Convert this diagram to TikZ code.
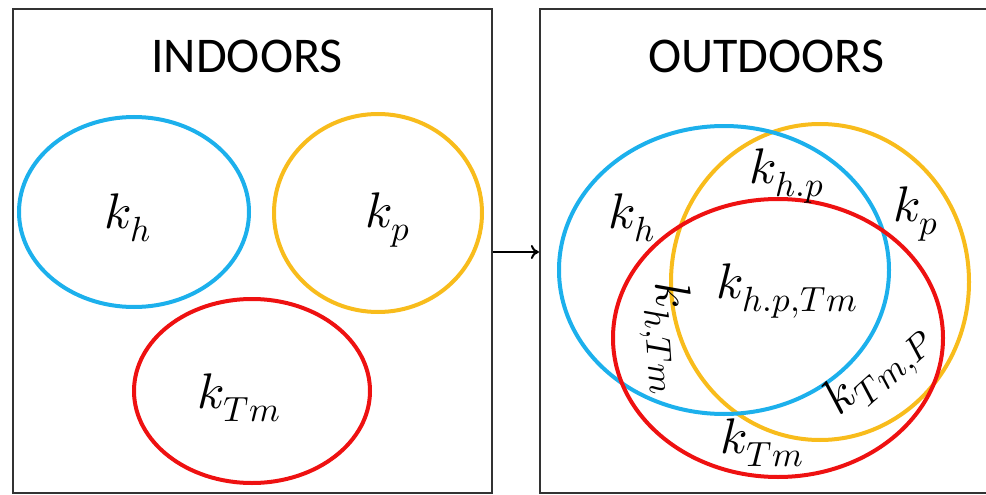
\documentclass[tikz,border=0pt]{standalone}
\usepackage{fontspec}
\usepackage{unicode-math}
\setmainfont{Carlito}
\setmathfont{Latin Modern Math}
\usetikzlibrary{arrows.meta}
\definecolor{cblue}{HTML}{1CB0EC}
\definecolor{corange}{HTML}{F8BC1C}
\definecolor{cred}{HTML}{EE1111}
\tikzset{
  panel/.style={draw=black!80, line width=2.2pt, rectangle, inner sep=0pt},
  title/.style={font=\fontsize{50}{50}\selectfont, inner sep=0pt},
  lbl/.style={font=\fontsize{50}{50}\selectfont, inner sep=0pt},
  ring/.style={line width=4pt},
}
\begin{document}
\begin{tikzpicture}[x=1pt,y=-1pt]
\useasboundingbox (0,0) rectangle (986,495);
% panels
\node[panel, minimum width=479pt, minimum height=484pt] (L) at (252.5,251) {};
\node[panel, minimum width=452pt, minimum height=484pt] (R) at (766,251) {};
\draw[line width=2pt, -{To[length=8pt,width=14pt]}] (L.east |- 0,252) -- (R.west |- 0,252);
\node[title] (tin) at (247,56) {INDOORS};
\node[title] (tout) at (766,56) {OUTDOORS};
% indoors ellipses
\draw[ring, cblue] (134,212) ellipse [x radius=115, y radius=95];
\draw[ring, corange] (378,213) ellipse [x radius=104, y radius=99];
\draw[ring, cred] (252,391) ellipse [x radius=118, y radius=92];
\node[lbl] (ih) at (128,218) {$k_h$};
\node[lbl] (ip) at (388,220) {$k_p$};
\node[lbl] (it) at (239,398) {$k_{Tm}$};
% outdoors ellipses
\draw[ring, corange] (820,282) ellipse [x radius=149, y radius=158];
\draw[ring, cblue] (724,270) ellipse [x radius=165, y radius=144];
\draw[ring, cred] (778,338) ellipse [x radius=165, y radius=139];
\node[lbl] (oh) at (632,218) {$k_h$};
\node[lbl] (ohp) at (787,176) {$k_{h.p}$};
\node[lbl] (op) at (916,214) {$k_p$};
\node[lbl] (ohpt) at (787,291) {$k_{h.p,Tm}$};
\node[lbl, rotate=-86] (oht) at (667,338) {$k_{h,Tm}$};
\node[lbl, rotate=42] (otp) at (879,371) {$k_{Tm,P}$};
\node[lbl] (ot) at (762,443) {$k_{Tm}$};
\end{tikzpicture}
\end{document}
